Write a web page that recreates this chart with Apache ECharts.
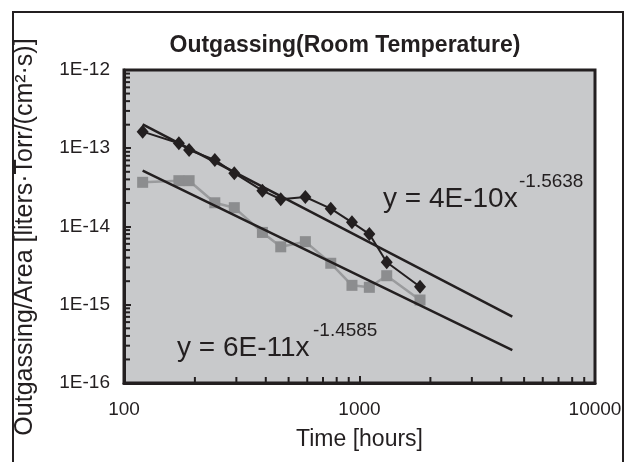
<!DOCTYPE html>
<html>
<head>
<meta charset="utf-8">
<style>
  html, body { margin: 0; padding: 0; background: #fff; }
  #chart { width: 629px; height: 462px; }
</style>
<script src="https://cdn.jsdelivr.net/npm/echarts@6/dist/echarts.min.js"></script>
</head>
<body>
<div id="chart"></div>
<script>
// hours (shared by both measured series)
const hours = [120, 171, 189, 243, 294, 387, 463, 589, 755, 929, 1101, 1305, 1807]
const blackSeries = [1.63e-13, 1.16e-13, 9.5e-14, 7.1e-14, 4.8e-14, 2.87e-14, 2.23e-14, 2.38e-14, 1.69e-14, 1.13e-14, 8.0e-15, 3.49e-15, 1.70e-15]
const graySeries = [3.67e-14, 3.85e-14, 3.85e-14, 2.01e-14, 1.74e-14, 8.4e-15, 5.5e-15, 6.4e-15, 3.39e-15, 1.77e-15, 1.67e-15, 2.35e-15, 1.15e-15]

// power-law trend lines, end points
const blackFit = [[120, 2.02e-13], [4455, 7.03e-16]]
const grayFit = [[120, 5.16e-14], [4455, 2.64e-16]]

const xMinorTicks = [200, 300, 400, 500, 600, 700, 800, 900, 2000, 3000, 4000, 5000, 6000, 7000, 8000, 9000]
const yMinorTicks = []
for (const e of [-16, -15, -14, -13]) {
  for (let m = 2; m <= 9; m++) yMinorTicks.push(m * Math.pow(10, e))
}

const INK = '#231f20'
const FONT = '"Liberation Sans", Arial, sans-serif'
const X_MIN = 100
const Y_MIN = 1e-16

const chart = echarts.init(document.getElementById('chart'))

const tickSeries = (data, isX) => ({
  type: 'custom',
  silent: true,
  clip: false,
  z: 10,
  data: data.map((v) => (isX ? [v, Y_MIN] : [X_MIN, v])),
  renderItem: (params, api) => {
    const p = api.coord([api.value(0), api.value(1)])
    return {
      type: 'line',
      shape: isX
        ? { x1: p[0], y1: p[1], x2: p[0], y2: p[1] - 6 }
        : { x1: p[0], y1: p[1], x2: p[0] + 6, y2: p[1] },
      style: { stroke: INK, lineWidth: 2 }
    }
  }
})

chart.setOption({
  animation: false,
  textStyle: { fontFamily: FONT, color: INK },
  title: {
    text: 'Outgassing(Room Temperature)',
    left: 340,
    top: 29,
    textAlign: 'center',
    textStyle: { fontFamily: FONT, fontSize: 23, fontWeight: 'bold', color: INK }
  },
  grid: {
    left: 124,
    right: 34,
    top: 70,
    bottom: 79,
    show: true,
    backgroundColor: '#c8c9cb',
    borderColor: INK,
    borderWidth: 3
  },
  xAxis: {
    type: 'log',
    logBase: 10,
    min: 100,
    max: 10000,
    name: 'Time [hours]',
    nameLocation: 'middle',
    nameGap: 45,
    nameTextStyle: { fontFamily: FONT, fontSize: 23, color: INK },
    axisLine: { lineStyle: { color: INK, width: 3 } },
    axisTick: { inside: true, length: 7, lineStyle: { color: INK, width: 2 } },
    axisLabel: {
      margin: 17,
      fontSize: 19,
      color: INK,
      fontFamily: FONT,
      showMinLabel: true,
      showMaxLabel: true,
      formatter: (v) => String(Math.round(v))
    },
    splitLine: { show: false }
  },
  yAxis: {
    type: 'log',
    logBase: 10,
    min: 1e-16,
    max: 1e-12,
    axisLine: { lineStyle: { color: INK, width: 3 } },
    axisTick: { inside: true, length: 7, lineStyle: { color: INK, width: 2 } },
    axisLabel: {
      margin: 14,
      fontSize: 19,
      color: INK,
      fontFamily: FONT,
      showMinLabel: true,
      showMaxLabel: true,
      formatter: (v) => '1E' + Math.round(Math.log10(v))
    },
    splitLine: { show: false }
  },
  series: [
    {
      type: 'line',
      data: hours.map((h, i) => [h, graySeries[i]]),
      symbol: 'rect',
      symbolSize: 11,
      lineStyle: { color: '#9a9b9d', width: 2.5 },
      itemStyle: { color: '#8c8d8f' },
      z: 3
    },
    {
      type: 'line',
      data: hours.map((h, i) => [h, blackSeries[i]]),
      symbol: 'diamond',
      symbolSize: [12, 14],
      lineStyle: { color: INK, width: 2 },
      itemStyle: { color: INK },
      z: 4
    },
    {
      type: 'line',
      data: blackFit,
      symbol: 'none',
      lineStyle: { color: INK, width: 2.5 },
      z: 5
    },
    {
      type: 'line',
      data: grayFit,
      symbol: 'none',
      lineStyle: { color: INK, width: 2.5 },
      z: 5
    },
    tickSeries(xMinorTicks, true),
    tickSeries(yMinorTicks, false)
  ],
  graphic: [
    {
      type: 'rect',
      silent: true,
      shape: { x: 13, y: 12, width: 610, height: 480 },
      style: { fill: 'none', stroke: INK, lineWidth: 2 }
    },
    {
      type: 'text',
      x: 25, y: 237,
      rotation: Math.PI / 2,
      style: {
        text: 'Outgassing/Area [liters\u00b7Torr/(cm\u00b2\u00b7s)]',
        fontFamily: FONT, fontSize: 25, fill: INK,
        align: 'center', verticalAlign: 'middle'
      }
    },
    {
      type: 'text',
      x: 383, y: 199,
      style: { text: 'y = 4E-10x', fontFamily: FONT, fontSize: 28, fill: INK, verticalAlign: 'middle' }
    },
    {
      type: 'text',
      x: 519, y: 182,
      style: { text: '-1.5638', fontFamily: FONT, fontSize: 19, fill: INK, verticalAlign: 'middle' }
    },
    {
      type: 'text',
      x: 177, y: 348,
      style: { text: 'y = 6E-11x', fontFamily: FONT, fontSize: 28, fill: INK, verticalAlign: 'middle' }
    },
    {
      type: 'text',
      x: 313, y: 331,
      style: { text: '-1.4585', fontFamily: FONT, fontSize: 19, fill: INK, verticalAlign: 'middle' }
    }
  ]
})
</script>
</body>
</html>
